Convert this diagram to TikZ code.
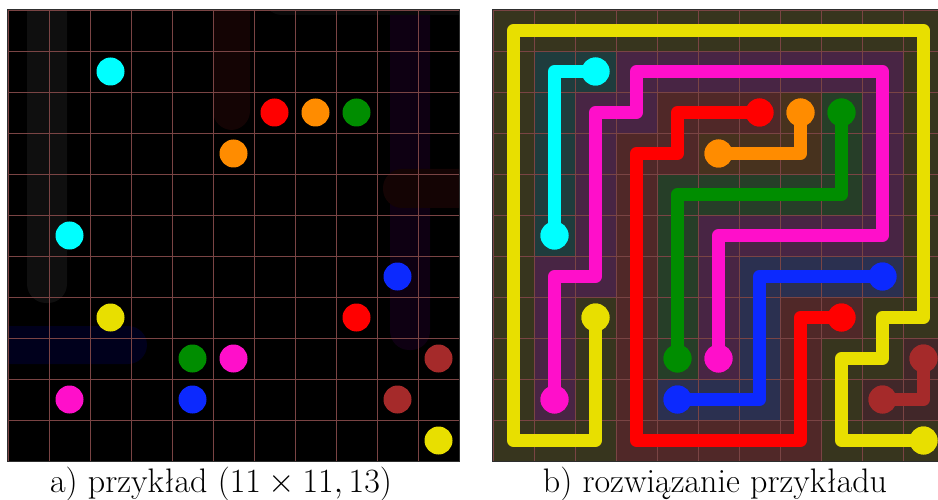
\RequirePackage{fix-cm}
\documentclass[tikz,border=0pt]{standalone}
\usepackage{fontspec}
\definecolor{cCyan}{HTML}{00FFFF}
\definecolor{cRed}{HTML}{FF0000}
\definecolor{cOrange}{HTML}{FF8C00}
\definecolor{cGreen}{HTML}{008D00}
\definecolor{cYellow}{HTML}{E8DF00}
\definecolor{cBlue}{HTML}{0C29FE}
\definecolor{cMagenta}{HTML}{FF0FCA}
\definecolor{cBrown}{HTML}{A52A2A}
\definecolor{tYellow}{HTML}{37351E}
\definecolor{tCyan}{HTML}{1F3C3D}
\definecolor{tMagenta}{HTML}{482544}
\definecolor{tRed}{HTML}{502828}
\definecolor{tGreen}{HTML}{263E28}
\definecolor{tOrange}{HTML}{47321E}
\definecolor{tBlue}{HTML}{2B3050}
\definecolor{tBrown}{HTML}{412729}
\definecolor{gridcol}{HTML}{7A4444}
\definecolor{framecol}{HTML}{2E2E2E}
\definecolor{ghostGray}{HTML}{0F0F0F}
\definecolor{ghostBlue}{HTML}{00001C}
\definecolor{ghostRed}{HTML}{140404}
\definecolor{ghostPurple}{HTML}{0E0012}
\tikzset{
  dot/.style={circle, minimum size=28pt, inner sep=0pt, draw=none},
  flow/.style={line width=13pt, line cap=round, line join=round},
  tint/.style={line width=41pt, line cap=rect, line join=miter},
  gridline/.style={draw=gridcol, line width=0.9pt},
  frame/.style={draw=framecol, line width=1.2pt},
  ghost/.style={rounded corners=19pt},
  caption/.style={anchor=base, inner sep=0pt, font=\fontsize{34}{40}\selectfont}
}
\begin{document}
\begin{tikzpicture}[x=1pt,y=-1pt]
\useasboundingbox (0,0) rectangle (938,500);
\fill[white] (0,0) rectangle (938,500);
\foreach \c in {0,...,10}{\foreach \r in {0,...,10}{
  \coordinate (L-\c-\r) at ({8+41*(\c+0.5)},{10+41*(\r+0.5)});
  \coordinate (R-\c-\r) at ({493+41*(\c+0.5)},{10+41*(\r+0.5)});
}}
% ---------- left panel ----------
\begin{scope}
\clip (8,10) rectangle (459,461);
\fill[black] (8,10) rectangle (459,461);
\fill[ghostGray, ghost] (27,-30) rectangle (67,303);
\fill[ghostBlue, ghost] (-30,326) rectangle (147,364);
\fill[ghostRed, ghost] (213,-30) rectangle (250,130);
\fill[ghostPurple, ghost] (390,-30) rectangle (430,350);
\fill[ghostRed, ghost] (383,169) rectangle (500,208);
\fill[ghostGray!70!black, ghost] (263,-30) rectangle (500,15);
\end{scope}
\foreach \i in {0,...,11}{
  \draw[gridline] ({8+41*\i},10) -- ({8+41*\i},461);
  \draw[gridline] (8,{10+41*\i}) -- (459,{10+41*\i});
}
\draw[frame] (7.5,9.5) rectangle (459.5,461.5);
\node[dot, fill=cCyan] (la-c1) at (L-2-1) {};
\node[dot, fill=cCyan] (la-c2) at (L-1-5) {};
\node[dot, fill=cRed] (la-r1) at (L-6-2) {};
\node[dot, fill=cRed] (la-r2) at (L-8-7) {};
\node[dot, fill=cOrange] (la-o1) at (L-7-2) {};
\node[dot, fill=cOrange] (la-o2) at (L-5-3) {};
\node[dot, fill=cGreen] (la-g1) at (L-8-2) {};
\node[dot, fill=cGreen] (la-g2) at (L-4-8) {};
\node[dot, fill=cBlue] (la-b1) at (L-9-6) {};
\node[dot, fill=cBlue] (la-b2) at (L-4-9) {};
\node[dot, fill=cYellow] (la-y1) at (L-2-7) {};
\node[dot, fill=cYellow] (la-y2) at (L-10-10) {};
\node[dot, fill=cMagenta] (la-m1) at (L-5-8) {};
\node[dot, fill=cMagenta] (la-m2) at (L-1-9) {};
\node[dot, fill=cBrown] (la-n1) at (L-10-8) {};
\node[dot, fill=cBrown] (la-n2) at (L-9-9) {};
% ---------- right panel ----------
\begin{scope}
\clip (493,10) rectangle (938,461);
\fill[black] (493,10) rectangle (944,461);
\draw[tint, tYellow] (R-2-7) -- (R-2-10) -- (R-0-10) -- (R-0-0) -- (R-10-0) -- (R-10-7) -- (R-9-7) -- (R-9-8) -- (R-8-8) -- (R-8-10) -- (R-10-10);
\draw[tint, tCyan] (R-2-1) -- (R-1-1) -- (R-1-5);
\draw[tint, tMagenta] (R-1-9) -- (R-1-6) -- (R-2-6) -- (R-2-2) -- (R-3-2) -- (R-3-1) -- (R-9-1) -- (R-9-5) -- (R-5-5) -- (R-5-8);
\draw[tint, tRed] (R-6-2) -- (R-4-2) -- (R-4-3) -- (R-3-3) -- (R-3-10) -- (R-7-10) -- (R-7-7) -- (R-8-7);
\draw[tint, tOrange] (R-5-3) -- (R-7-3) -- (R-7-2);
\draw[tint, tGreen] (R-8-2) -- (R-8-4) -- (R-4-4) -- (R-4-8);
\draw[tint, tBlue] (R-4-9) -- (R-6-9) -- (R-6-6) -- (R-9-6);
\draw[tint, tBrown] (R-9-9) -- (R-10-9) -- (R-10-8);
\foreach \i in {0,...,11}{
  \draw[gridline] ({493+41*\i},10) -- ({493+41*\i},461);
  \draw[gridline] (493,{10+41*\i}) -- (944,{10+41*\i});
}
\node[dot, fill=cCyan] (rb-c1) at (R-2-1) {};
\node[dot, fill=cCyan] (rb-c2) at (R-1-5) {};
\node[dot, fill=cRed] (rb-r1) at (R-6-2) {};
\node[dot, fill=cRed] (rb-r2) at (R-8-7) {};
\node[dot, fill=cOrange] (rb-o1) at (R-7-2) {};
\node[dot, fill=cOrange] (rb-o2) at (R-5-3) {};
\node[dot, fill=cGreen] (rb-g1) at (R-8-2) {};
\node[dot, fill=cGreen] (rb-g2) at (R-4-8) {};
\node[dot, fill=cBlue] (rb-b1) at (R-9-6) {};
\node[dot, fill=cBlue] (rb-b2) at (R-4-9) {};
\node[dot, fill=cYellow] (rb-y1) at (R-2-7) {};
\node[dot, fill=cYellow] (rb-y2) at (R-10-10) {};
\node[dot, fill=cMagenta] (rb-m1) at (R-5-8) {};
\node[dot, fill=cMagenta] (rb-m2) at (R-1-9) {};
\node[dot, fill=cBrown] (rb-n1) at (R-10-8) {};
\node[dot, fill=cBrown] (rb-n2) at (R-9-9) {};
\draw[flow, cYellow] (rb-y1.center) -- (R-2-10) -- (R-0-10) -- (R-0-0) -- (R-10-0) -- (R-10-7) -- (R-9-7) -- (R-9-8) -- (R-8-8) -- (R-8-10) -- (rb-y2.center);
\draw[flow, cCyan] (rb-c1.center) -- (R-1-1) -- (rb-c2.center);
\draw[flow, cMagenta] (rb-m2.center) -- (R-1-6) -- (R-2-6) -- (R-2-2) -- (R-3-2) -- (R-3-1) -- (R-9-1) -- (R-9-5) -- (R-5-5) -- (rb-m1.center);
\draw[flow, cRed] (rb-r1.center) -- (R-4-2) -- (R-4-3) -- (R-3-3) -- (R-3-10) -- (R-7-10) -- (R-7-7) -- (rb-r2.center);
\draw[flow, cOrange] (rb-o2.center) -- (R-7-3) -- (rb-o1.center);
\draw[flow, cGreen] (rb-g1.center) -- (R-8-4) -- (R-4-4) -- (rb-g2.center);
\draw[flow, cBlue] (rb-b2.center) -- (R-6-9) -- (R-6-6) -- (rb-b1.center);
\draw[flow, cBrown] (rb-n2.center) -- (R-10-9) -- (rb-n1.center);
\foreach \n/\col in {c1/cCyan,c2/cCyan,r1/cRed,r2/cRed,o1/cOrange,o2/cOrange,g1/cGreen,g2/cGreen,b1/cBlue,b2/cBlue,y1/cYellow,y2/cYellow,m1/cMagenta,m2/cMagenta,n1/cBrown,n2/cBrown}{
  \fill[\col] (rb-\n.center) circle[radius=14pt];
}
\end{scope}
\draw[frame] (492.5,9.5) rectangle (944.5,461.5);
% ---------- captions ----------
\node[caption] (capa) at (221,492) {a) przykład $(11\times 11, 13)$};
\node[caption] (capb) at (715,492) {b) rozwiązanie przykładu};
\end{tikzpicture}
\end{document}
